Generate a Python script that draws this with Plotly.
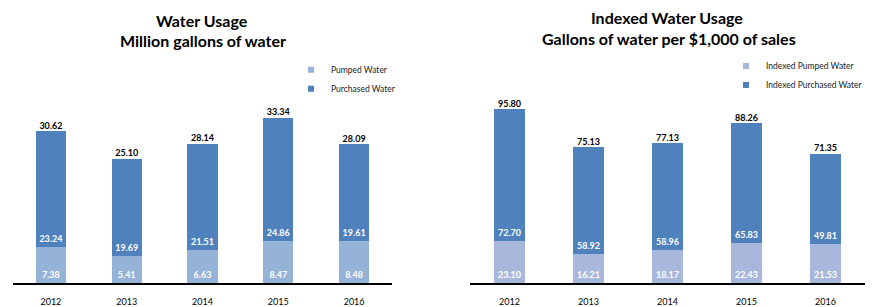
import plotly.graph_objects as go

years = ["2012", "2013", "2014", "2015", "2016"]

pumped = [7.38, 5.41, 6.63, 8.47, 8.48]
purchased = [23.24, 19.69, 21.51, 24.86, 19.61]
totals = [30.62, 25.10, 28.14, 33.34, 28.09]

idx_pumped = [23.10, 16.21, 18.17, 22.43, 21.53]
idx_purchased = [72.70, 58.92, 58.96, 65.83, 49.81]
idx_totals = [95.80, 75.13, 77.13, 88.26, 71.35]

C_PUMP = "#95B3D7"
C_PURCH = "#4F81BD"
C_IPUMP = "#A8B8DC"
FONT = "Lato"

# page has an 8px body margin; figure sized to fill the rest of the window
W, H = 866, 299
OFF = 8


def px(x):
    return (x - OFF) / W


def py(y):
    return 1 - (y - OFF) / H


def fmt(v):
    return [f"{x:.2f}" for x in v]


fig = go.Figure()


def add_chart(xa, ya, pv, uv, tv, cp, cu, names, leg):
    common = dict(xaxis=xa, yaxis=ya, width=0.4, textposition="inside",
                  insidetextanchor="start", textangle=0, constraintext="none",
                  textfont=dict(color="white", size=9, family=FONT, weight="bold"),
                  showlegend=False, hoverinfo="skip")
    fig.add_trace(go.Bar(x=years, y=pv, text=fmt(pv), marker=dict(color=cp, line=dict(width=0)), **common))
    fig.add_trace(go.Bar(x=years, y=uv, text=fmt(uv), marker=dict(color=cu, line=dict(width=0)), **common))
    fig.add_trace(go.Scatter(x=years, y=tv, text=fmt(tv), mode="text", textposition="top center",
                             textfont=dict(color="black", size=9, family=FONT, weight="bold"),
                             xaxis=xa, yaxis=ya, showlegend=False, cliponaxis=False, hoverinfo="skip"))
    for nm, c in zip(names, [cp, cu]):
        fig.add_trace(go.Scatter(x=[None], y=[None], mode="markers", name=nm,
                                 marker=dict(symbol="square", size=6, color=c),
                                 xaxis=xa, yaxis=ya, legend=leg))


add_chart("x", "y", pumped, purchased, totals, C_PUMP, C_PURCH,
          ["Pumped Water", "Purchased Water"], "legend")
add_chart("x2", "y2", idx_pumped, idx_purchased, idx_totals, C_IPUMP, C_PURCH,
          ["Indexed Pumped Water", "Indexed Purchased Water"], "legend2")

ydom = [py(287), py(50)]
xcommon = dict(showline=True, linecolor="black", linewidth=2, showgrid=False,
               ticks="outside", ticklen=9, tickcolor="rgba(0,0,0,0)",
               tickfont=dict(size=9, family=FONT, color="black"), range=[-0.5, 4.5],
               fixedrange=True)
ycommon = dict(visible=False, showgrid=False, fixedrange=True)

legcommon = dict(font=dict(size=8.5, family=FONT, color="#222"), bgcolor="rgba(0,0,0,0)",
                 traceorder="normal", itemwidth=30, tracegroupgap=0,
                 xanchor="left", yanchor="top")

title_font = dict(size=16, family=FONT, color="black")


def title(text, x, y):
    return dict(text=f"<b>{text}</b>", x=px(x), y=py(y), xref="paper", yref="paper",
                xanchor="center", yanchor="middle", showarrow=False, font=title_font)


fig.update_layout(
    width=W, height=H,
    margin=dict(l=0, r=0, t=0, b=0),
    paper_bgcolor="white", plot_bgcolor="white",
    barmode="stack", bargap=0.6,
    font=dict(family=FONT),
    xaxis=dict(domain=[px(13), px(392)], anchor="y", **xcommon),
    yaxis=dict(domain=ydom, range=[0, 47.1], anchor="x", **ycommon),
    xaxis2=dict(domain=[px(470), px(865)], anchor="y2", **xcommon),
    yaxis2=dict(domain=ydom, range=[0, 128.8], anchor="x2", **ycommon),
    legend=dict(x=px(291), y=py(56), **legcommon),
    legend2=dict(x=px(726), y=py(52), **legcommon),
    annotations=[
        title("Water Usage", 202, 21),
        title("Million gallons of water", 203, 41),
        title("Indexed Water Usage", 667, 18),
        title("Gallons of water per $1,000 of sales", 669, 39),
    ],
)

fig.write_html("out.html")
